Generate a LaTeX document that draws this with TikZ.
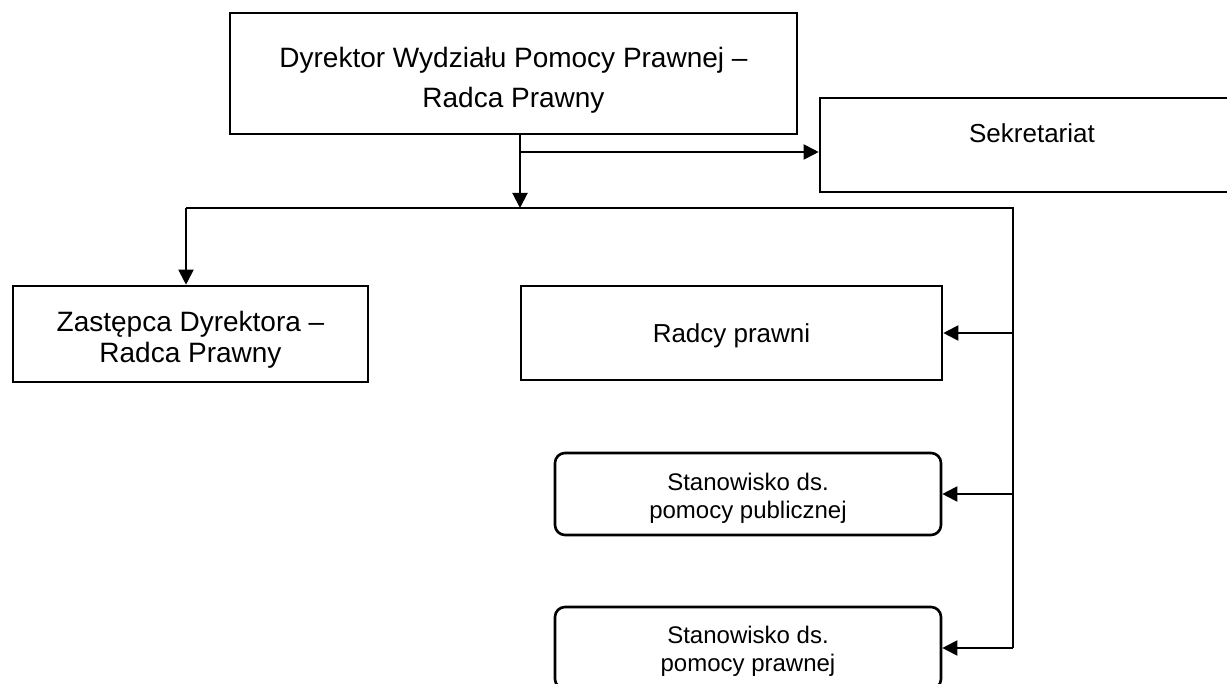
\documentclass[tikz,border=0pt]{standalone}
\usepackage{fontspec}
\setmainfont{Liberation Sans}
\usetikzlibrary{arrows.meta}
\begin{document}
\begin{tikzpicture}[x=0.5pt,y=-0.5pt,
	box/.style={draw, line width=1.3pt, inner sep=0pt},
	rbox/.style={box, rounded corners=5pt},
	lab/.style={align=center, inner sep=0pt},
	arr/.style={-{Triangle[length=7.5pt,width=7.5pt]}, line width=1pt},
	bus/.style={line width=0.7pt}]
	\useasboundingbox (0,0) rectangle (1227,684);
	\node[anchor=base, font=\fontsize{14}{16}\selectfont] (cut) at (182,-10) {( ... )};
	\node[box, minimum width=283.5pt, minimum height=60.5pt, label={[lab, yshift=-3.5pt, font=\fontsize{14}{20}\selectfont]center:{Dyrektor Wydziału Pomocy Prawnej –\\Radca Prawny}}] (dyr) at (513.5,73.5) {};
	\node[box, minimum width=212pt, minimum height=47pt, label={[lab, yshift=6pt, font=\fontsize{13}{16}\selectfont]center:Sekretariat}] (sek) at (1032,145) {};
	\node[box, minimum width=177.5pt, minimum height=48pt, label={[lab, yshift=-3pt, font=\fontsize{14}{15.75}\selectfont]center:{Zastępca Dyrektora –\\Radca Prawny}}] (zas) at (190.5,334) {};
	\node[box, minimum width=210.5pt, minimum height=47pt, label={[lab, yshift=-1.5pt, font=\fontsize{13}{16}\selectfont]center:Radcy prawni}] (rad) at (731.5,333) {};
	\node[rbox, minimum width=193pt, minimum height=41pt, label={[lab, yshift=-2pt, font=\fontsize{12}{14}\selectfont]center:{Stanowisko ds.\\pomocy publicznej}}] (pub) at (748,494) {};
	\node[rbox, minimum width=193pt, minimum height=41pt, label={[lab, yshift=-1.5pt, font=\fontsize{12}{14}\selectfont]center:{Stanowisko ds.\\pomocy prawnej}}] (prw) at (748,648) {};
	% connectors
	\coordinate (tee) at (520,152);
	\coordinate (fork) at (520,208);
	\coordinate (busL) at (186,208);
	\coordinate (busR) at (1013,208);
	\draw[line width=1pt] (dyr.south -| tee) -- (tee);
	\draw[arr] (tee) -- (fork);
	\draw[arr] (tee) -- (tee -| sek.west);
	\draw[bus] (busL) -- (busR) -- (busR |- prw.east);
	\draw[arr] (busL) -- (busL |- zas.north);
	\foreach \n in {rad,pub,prw}
	{
		\draw[arr] (busR |- \n.east) -- (\n.east);
	}
\end{tikzpicture}
\end{document}
